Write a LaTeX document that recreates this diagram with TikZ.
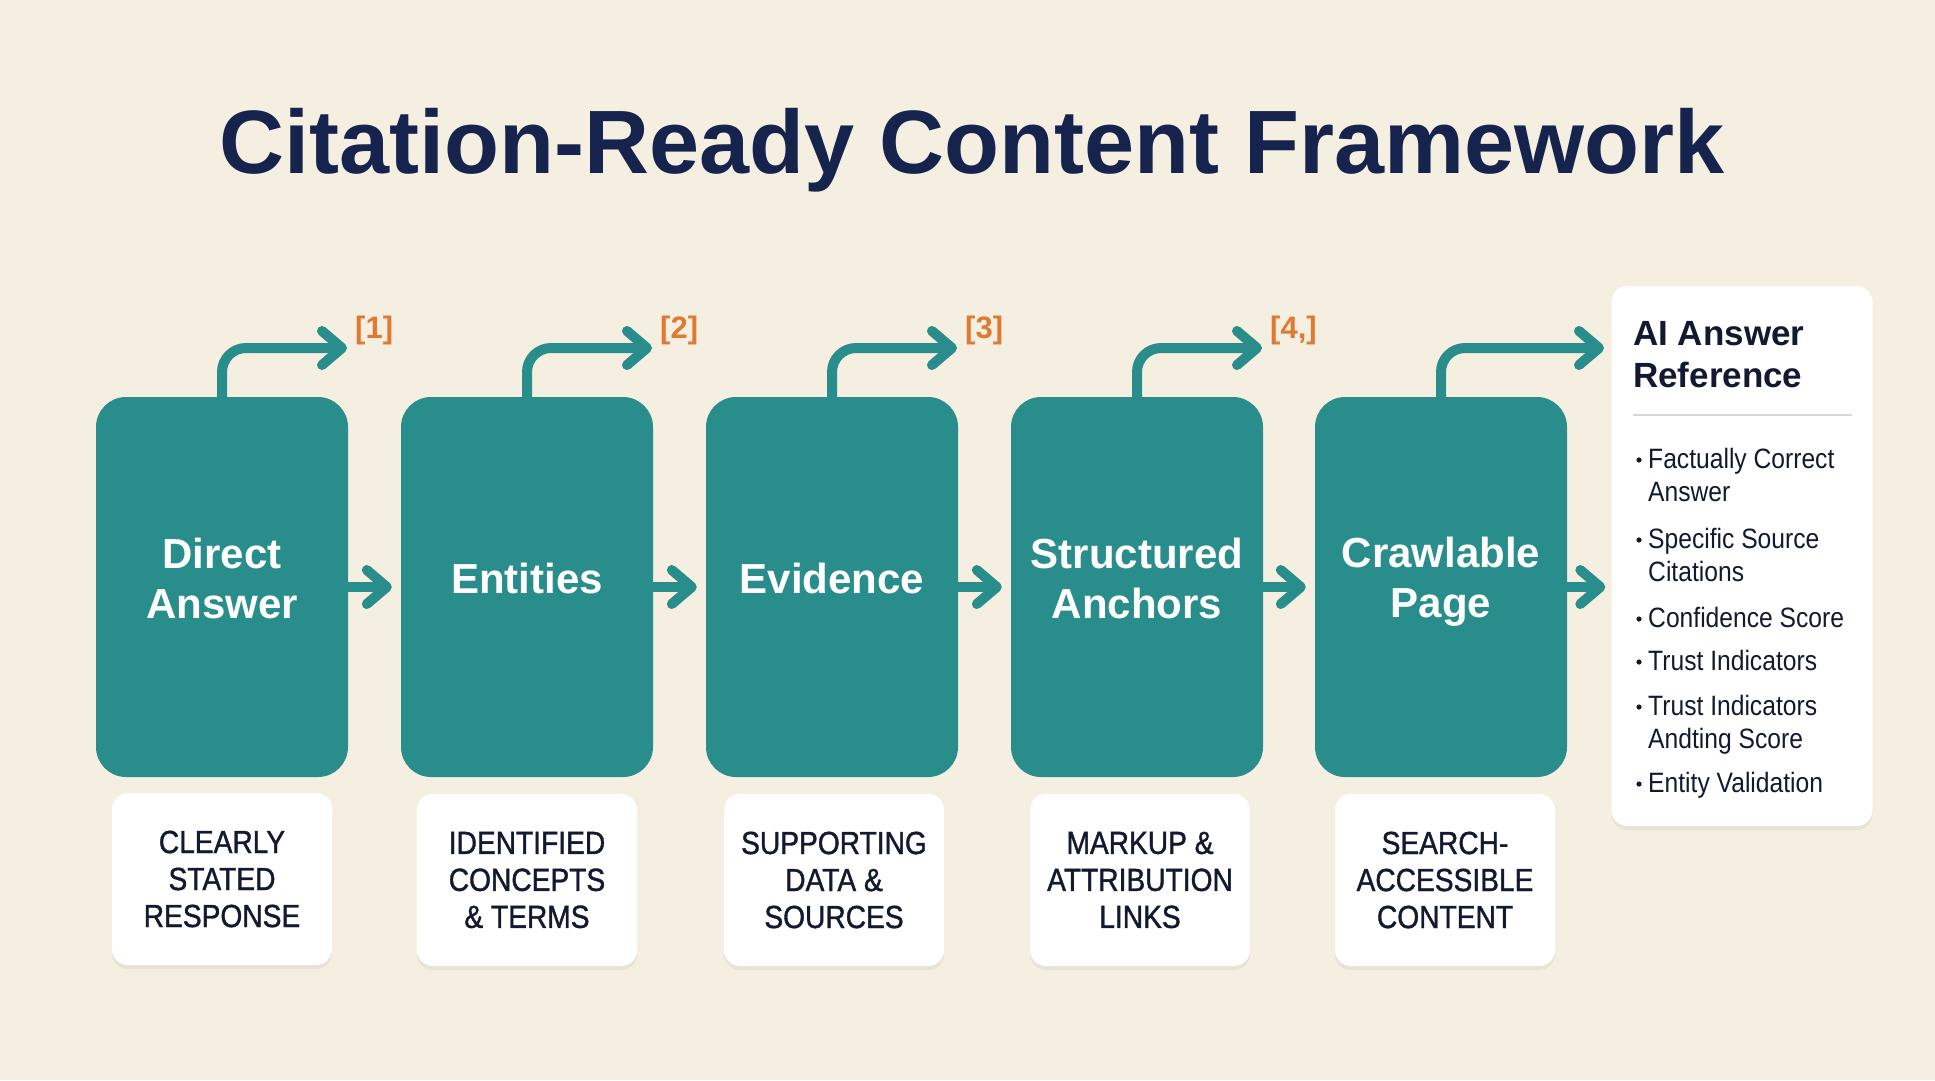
\documentclass[tikz,border=0pt]{standalone}
\usepackage{fontspec}
\setmainfont{Liberation Sans}
\newfontfamily\narrowfont[FakeStretch=0.88]{Liberation Sans}
\newfontfamily\labelfont[FakeStretch=0.88,FakeBold=1.2]{Liberation Sans}
\usetikzlibrary{positioning,arrows.meta,shadows}

\definecolor{paper}{RGB}{245,239,225}
\definecolor{tealbox}{RGB}{41,142,139}
\definecolor{navy}{RGB}{22,35,76}
\definecolor{ink}{RGB}{18,25,48}
\definecolor{citeorange}{RGB}{224,122,48}
\definecolor{rulegray}{RGB}{216,216,214}

\begin{document}
\begin{tikzpicture}[x=1pt,y=-1pt,
  stepbox/.style={fill=tealbox,rounded corners=30pt,minimum width=252pt,minimum height=380pt,inner sep=0pt},
  steptext/.style={text=white,align=center,inner sep=0pt,font=\bfseries\fontsize{42}{50}\selectfont},
  labelbox/.style={fill=white,rounded corners=16pt,minimum width=220pt,minimum height=172pt,inner sep=0pt,
    drop shadow={opacity=0.10,shadow xshift=0pt,shadow yshift=-4pt},
    align=center,text=ink,font=\labelfont\fontsize{32}{37}\selectfont},
  flow/.style={draw=tealbox,line width=10pt,-{Straight Barb[round,length=20pt,width=34pt]}},
  cite/.style={text=citeorange,inner sep=0pt,font=\bfseries\fontsize{31}{36}\selectfont},
  item/.style={anchor=base west,align=left,inner sep=0pt,text=ink,font=\narrowfont\fontsize{28}{33}\selectfont}]

\useasboundingbox[fill=paper] (0,0) rectangle (1935,1080);

% title
\node[anchor=base,inner sep=0pt,text=navy,font=\bfseries\fontsize{90}{100}\selectfont] (title) at (972,173) {Citation-Ready Content Framework};

% teal steps
\node[stepbox] (direct) at (222,587) {};
\node[stepbox] (entities) at (527,587) {};
\node[stepbox] (evidence) at (832,587) {};
\node[stepbox] (anchors) at (1137,587) {};
\node[stepbox] (crawl) at (1441,587) {};

\node[steptext] (direct-t) at (222,578) {Direct\\Answer};
\node[steptext] (entities-t) at (527,578) {Entities};
\node[steptext] (evidence-t) at (832,578) {Evidence};
\node[steptext] (anchors-t) at (1137,578) {Structured\\Anchors};
\node[steptext] (crawl-t) at (1441,582) {Crawlable\\Page};

% white labels
\node[labelbox] (direct-l) at (222,879) {CLEARLY\\STATED\\RESPONSE};
\node[labelbox] (entities-l) at (527,880) {IDENTIFIED\\CONCEPTS\\\& TERMS};
\node[labelbox] (evidence-l) at (834,880) {SUPPORTING\\DATA \&\\SOURCES};
\node[labelbox] (anchors-l) at (1140,880) {MARKUP \&\\ATTRIBUTION\\LINKS};
\node[labelbox] (crawl-l) at (1445,880) {SEARCH-\\ACCESSIBLE\\CONTENT};

% answer panel
\node[fill=white,rounded corners=16pt,minimum width=261pt,minimum height=540pt,inner sep=0pt,
  drop shadow={opacity=0.10,shadow xshift=0pt,shadow yshift=-4pt}] (panel) at (1742,556) {};
\node[anchor=base west,align=left,inner sep=0pt,text=ink,font=\bfseries\fontsize{35}{42}\selectfont] (panel-t) at (1633,387) {AI Answer\\Reference};
\draw[rulegray,line width=2pt] (1633,415) -- (1852,415);

% last baselines
\node[item] (b1) at (1648,501) {Factually Correct\\Answer};
\node[item] (b2) at (1648,581) {Specific Source\\Citations};
\node[item] (b3) at (1648,627) {Confidence Score};
\node[item] (b4) at (1648,670) {Trust Indicators};
\node[item] (b5) at (1648,748) {Trust Indicators\\Andting Score};
\node[item] (b6) at (1648,792) {Entity Validation};
\fill[ink] (1639,460) circle (2.6);
\fill[ink] (1639,540) circle (2.6);
\fill[ink] (1639,619) circle (2.6);
\fill[ink] (1639,662) circle (2.6);
\fill[ink] (1639,707) circle (2.6);
\fill[ink] (1639,784) circle (2.6);

% flow arrows
\draw[flow,shorten >=9pt] (direct.east) -- (entities.west);
\draw[flow,shorten >=9pt] (entities.east) -- (evidence.west);
\draw[flow,shorten >=9pt] (evidence.east) -- (anchors.west);
\draw[flow,shorten >=9pt] (anchors.east) -- (crawl.west);
\draw[flow,shorten >=6pt] (crawl.east) -- (crawl.east -| panel.west);

% citation arrows
\coordinate (tip1) at (347,348);
\coordinate (tip2) at (652,348);
\coordinate (tip3) at (957,348);
\coordinate (tip4) at (1262,348);
\coordinate (tip5) at (1604,348);
\draw[flow,rounded corners=24pt] (direct.north) |- (tip1);
\draw[flow,rounded corners=24pt] (entities.north) |- (tip2);
\draw[flow,rounded corners=24pt] (evidence.north) |- (tip3);
\draw[flow,rounded corners=24pt] (anchors.north) |- (tip4);
\draw[flow,rounded corners=24pt] (crawl.north) |- (tip5);

\node[cite,right=8pt of tip1,yshift=18pt] (c1) {[1]};
\node[cite,right=8pt of tip2,yshift=18pt] (c2) {[2]};
\node[cite,right=8pt of tip3,yshift=18pt] (c3) {[3]};
\node[cite,right=8pt of tip4,yshift=18pt] (c4) {[4,]};
\end{tikzpicture}
\end{document}
